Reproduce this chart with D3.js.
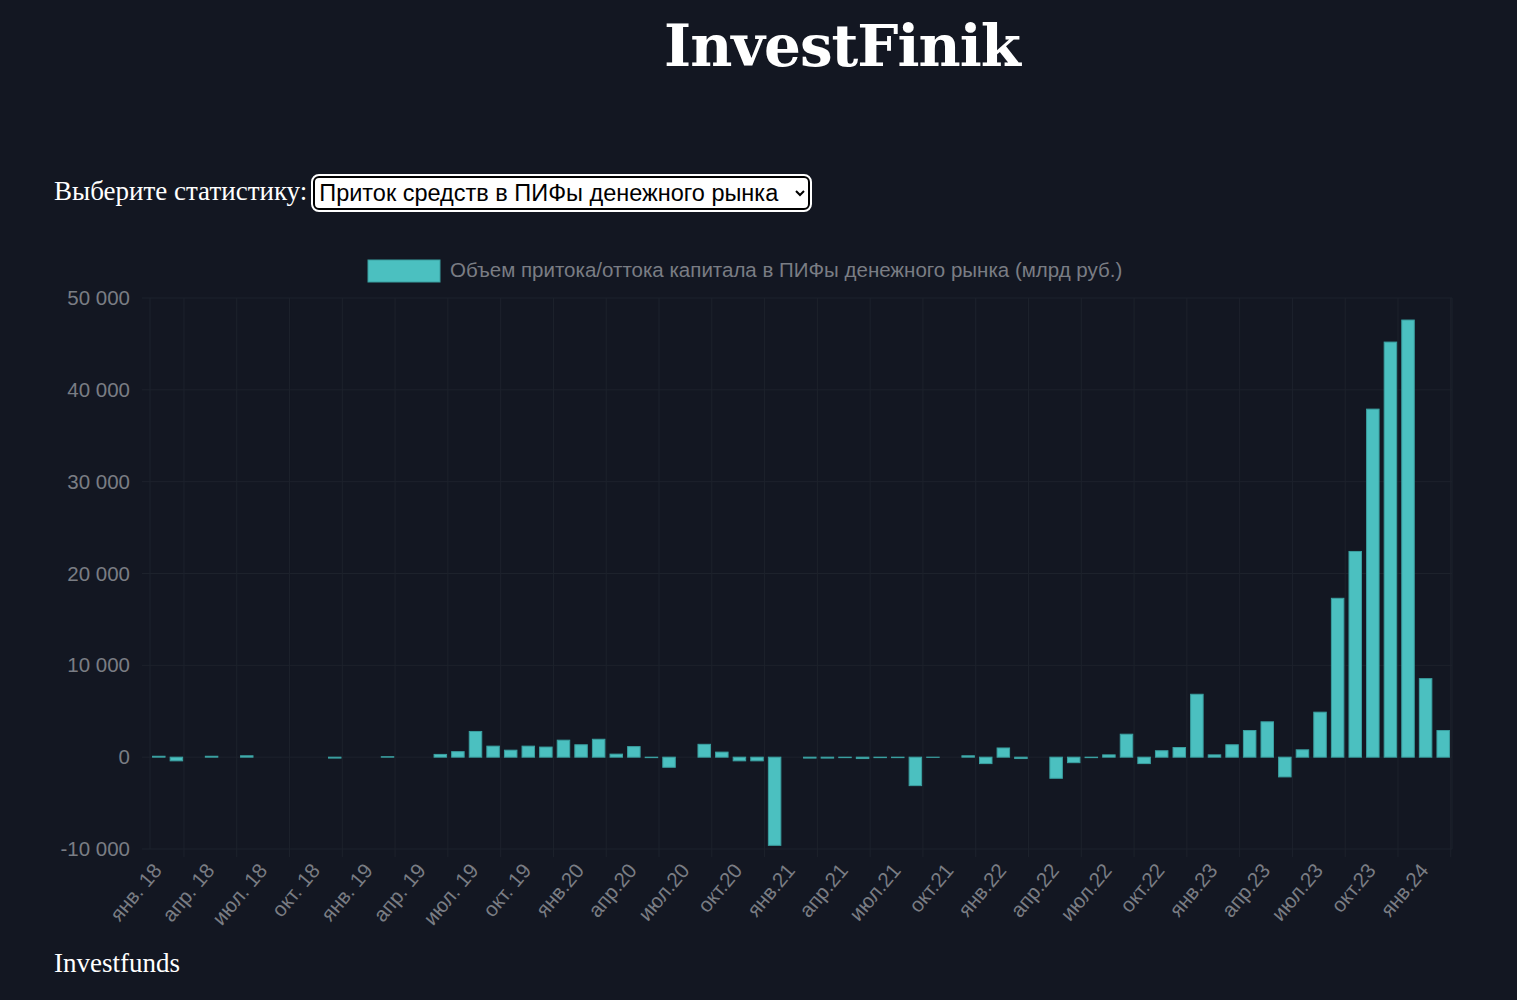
<!DOCTYPE html>
<html><head><meta charset="utf-8">
<script src="https://cdn.jsdelivr.net/npm/d3@7"></script>
<style>
html,body{margin:0;background:#131722;width:1517px;height:1000px;overflow:hidden;}
#title{position:absolute;left:0;width:1684px;top:12px;text-align:center;color:#fff;font-family:"DejaVu Serif",serif;font-weight:bold;font-size:58px;letter-spacing:-1px;}
#pick{position:absolute;left:54px;top:176px;color:#fff;font-family:"Liberation Serif",serif;font-size:27px;}
#pick select{font-family:"Liberation Sans",Arial,sans-serif;font-size:23.5px;height:34px;width:497px;border:2px solid #000;outline:2px solid #fff;border-radius:6px;background:#fff;color:#000;vertical-align:top;margin-left:6px;}
#foot{position:absolute;left:54px;top:948px;color:#fff;font-family:"Liberation Serif",serif;font-size:27px;}
svg{position:absolute;left:0;top:0;}
</style></head><body>
<div id="title">InvestFinik</div>
<div id="pick">Выберите статистику:<select><option>Приток средств в ПИФы денежного рынка</option></select></div>
<div id="foot">Investfunds</div>
<svg id="c" width="1517" height="1000"></svg>
<script>
const monthNames=["янв.","фев.","мар.","апр.","май.","июн.","июл.","авг.","сен.","окт.","ноя.","дек."];
const categories=[];
for(let y=18;y<=24;y++)for(let m=0;m<12;m++){if(y===24&&m>1)break;categories.push(monthNames[m]+(y<20?" ":"")+y);}
const values=[100,-400,0,100,0,150,0,0,0,0,-100,0,0,50,0,0,300,600,2800,1200,760,1200,1100,1850,1350,1950,330,1150,-50,-1100,0,1400,550,-400,-400,-9600,
0,-100,-100,-50,-150,-50,-50,-3100,-20,0,150,-700,1000,-150,0,-2300,-600,-50,250,2500,-700,700,1050,6850,250,1350,2900,3850,-2150,800,4900,17300,22400,37900,45200,47600,8550,2900];
const yTicks=[-10000,0,10000,20000,30000,40000,50000];
const legendLabel="Объем притока/оттока капитала в ПИФы денежного рынка (млрд руб.)";

const svg=d3.select("#c");
const L=150,R=1452,T=298,B=849;
const x=d3.scaleBand().domain(categories).range([L,R]).paddingInner(0.29).paddingOuter(0.145);
const y=d3.scaleLinear().domain([-10000,50000]).range([B,T]);
const grid="#1d222c";
svg.append("g").selectAll("line").data(yTicks).join("line")
 .attr("x1",L-8).attr("x2",R).attr("y1",d=>y(d)).attr("y2",d=>y(d)).attr("stroke",grid);
const step=x.step();
svg.append("g").selectAll("line").data(categories.filter((d,i)=>i%3===0)).join("line")
 .attr("x1",d=>x(d)-x.paddingOuter()*step+step*1.93).attr("x2",d=>x(d)-x.paddingOuter()*step+step*1.93)
 .attr("y1",T).attr("y2",B+8).attr("stroke",grid);
svg.append("line").attr("x1",L).attr("x2",L).attr("y1",T).attr("y2",B).attr("stroke",grid);
svg.append("line").attr("x1",R).attr("x2",R).attr("y1",T).attr("y2",B).attr("stroke",grid);
const fmt=d=>String(d).replace(/\B(?=(\d{3})+(?!\d))/g," ");
svg.append("g").selectAll("text").data(yTicks).join("text")
 .attr("x",130).attr("y",d=>y(d)+7).attr("text-anchor","end").attr("fill","#7a7d84")
 .attr("font-family","Liberation Sans,Arial,sans-serif").attr("font-size",20.5).text(fmt);
svg.append("g").selectAll("rect").data(values).join("rect")
 .attr("x",(d,i)=>x(categories[i])).attr("width",x.bandwidth())
 .attr("y",d=>y(Math.max(0,d))).attr("height",d=>Math.abs(y(d)-y(0)))
 .attr("fill","#4bc0c0").attr("stroke","#3a9fa0").attr("stroke-width",1);
svg.append("g").selectAll("text").data(categories.filter((d,i)=>i%3===0)).join("text")
 .attr("transform",d=>`translate(${x(d)+x.bandwidth()/2+4},${B+22}) rotate(-50)`)
 .attr("text-anchor","end").attr("fill","#7a7d84")
 .attr("font-family","Liberation Sans,Arial,sans-serif").attr("font-size",20.5).text(d=>d);
svg.append("rect").attr("x",368).attr("y",260).attr("width",72).attr("height",22).attr("fill","#4bc0c0").attr("stroke","#3a9fa0");
svg.append("text").attr("x",450).attr("y",277).attr("fill","#7a7d84")
 .attr("font-family","Liberation Sans,Arial,sans-serif").attr("font-size",20.5).text(legendLabel);
</script></body></html>
